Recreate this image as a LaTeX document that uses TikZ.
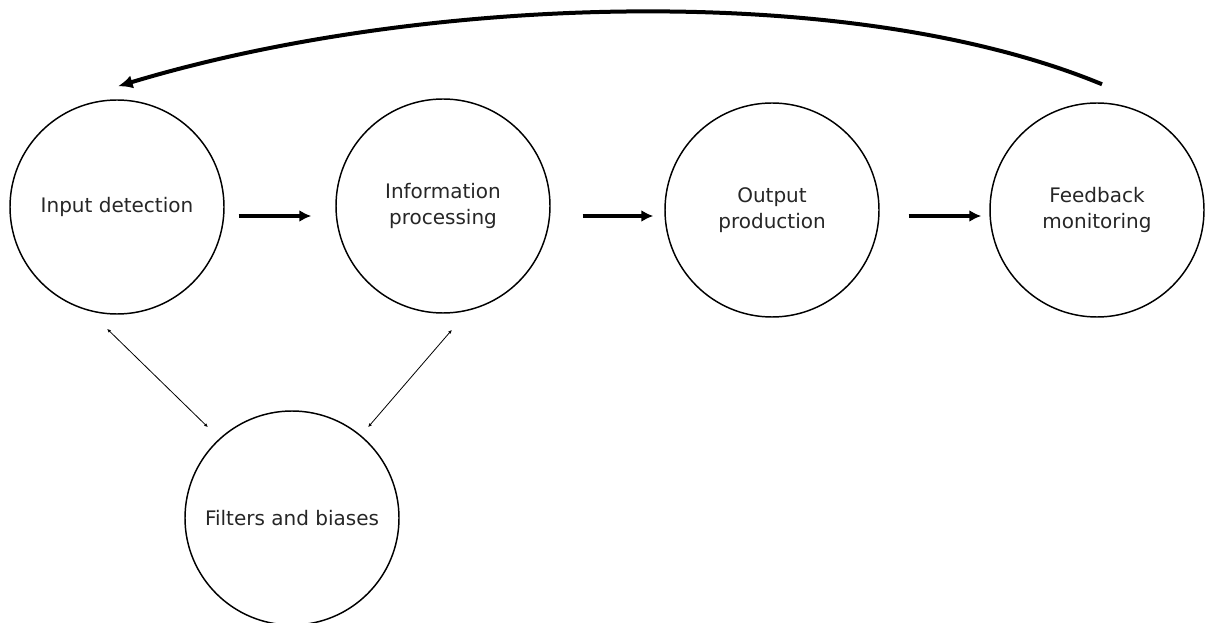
\documentclass[tikz,border=0pt]{standalone}
\usepackage{fontspec}
\setmainfont{DejaVu Sans}
\usetikzlibrary{positioning}
\usetikzlibrary{calc}
\usetikzlibrary{arrows.meta}

\tikzset{
  stage/.style={draw, circle, line width=1.1pt, minimum size=160.5pt, inner sep=0pt,
    align=center, font=\fontsize{15}{19.5}\selectfont, text=black!85},
  flow/.style={line width=3pt, -{Latex[length=9pt,width=9pt]}},
  loopback/.style={line width=3pt, -{Latex[length=11pt,width=10pt]}},
  bias/.style={line width=0.6pt, {Latex[length=3pt,width=2.5pt]}-{Latex[length=3pt,width=2.5pt]}},
}

\begin{document}
\begin{tikzpicture}[x=0.75pt,y=-0.75pt]
\useasboundingbox (0,0) rectangle (1206,623);

% the four stages
\node[stage] (input) at (117,207) {Input detection};
\node[stage] (process) at (443,206) {Information\\processing};
\node[stage] (output) at (772,210) {Output\\production};
\node[stage] (feedback) at (1097,210) {Feedback\\monitoring};
\node[stage] (filters) at (292,518) {Filters and biases};

% main flow
\draw[flow] ($(input.east)+(14,9)$) -- ($(process.west)+(-24,10)$);
\draw[flow] ($(process.east)+(32,10)$) -- ($(output.west)+(-11,6)$);
\draw[flow] ($(output.east)+(29,6)$) -- ($(feedback.west)+(-8,6)$);

% back to the start
\draw[loopback] ($(feedback.north)+(5,-18)$) .. controls (850,-20) and (420,-5) .. ($(input.north)+(1,-13)$);

% filters
\draw[bias] ($(input.south)+(-10,14)$) -- ($(filters.north)+(-84,17)$);
\draw[bias] ($(process.south)+(9,16)$) -- ($(filters.north)+(76,17)$);

\end{tikzpicture}
\end{document}
